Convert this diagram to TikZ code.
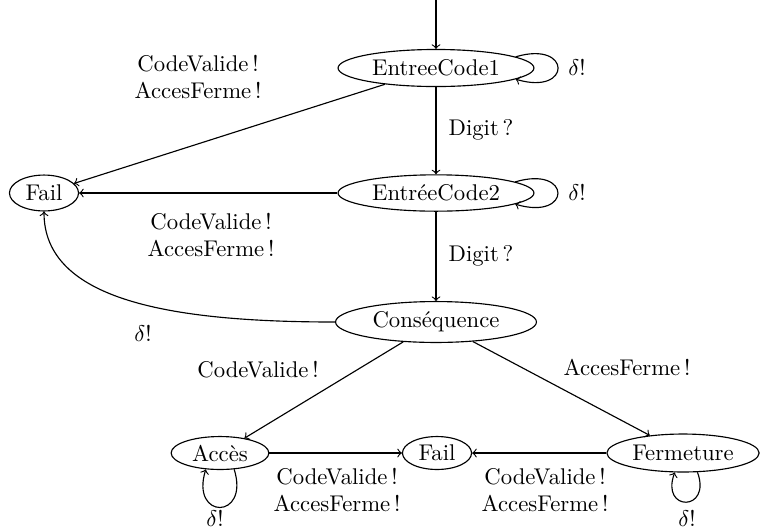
\documentclass[tikz,border=0pt]{standalone}
\usetikzlibrary{shapes.geometric}

\tikzset{
	etat/.style={draw,ellipse,inner sep=0pt},
	lbl/.style={align=center,inner sep=0pt},
}

\begin{document}
	\begin{tikzpicture}[x=0.44pt,y=-0.44pt,line width=0.5pt]
		\useasboundingbox (0,0) rectangle (760,531);
		\coordinate (debut) at (436,0);
		\node[etat,minimum width=86.2pt,minimum height=16.3pt] (code1) at (436,68) {EntreeCode1};
		\node[etat,minimum width=86.2pt,minimum height=16pt] (code2) at (436,193) {EntréeCode2};
		\node[etat,minimum width=88.4pt,minimum height=18pt] (cons) at (436,322) {Conséquence};
		\node[etat,minimum width=30.4pt,minimum height=15.8pt] (fail) at (44,193) {Fail};
		\node[etat,minimum width=43pt,minimum height=14.5pt] (acces) at (220,453) {Accès};
		\node[etat,minimum width=30.4pt,minimum height=14.5pt] (failb) at (437,453) {Fail};
		\node[etat,minimum width=67pt,minimum height=16.7pt] (ferm) at (683,453) {Fermeture};
		% transitions
		\draw [->] (debut) to (code1);
		\draw [->] (code1) to (code2);
		\draw [->] (code2) to (cons);
		\draw [->] (code1) to (fail);
		\draw [->] (code2) to (fail);
		\draw [->] (cons.west) .. controls (170,322) and (44,300) .. (fail.south);
		\draw [->] (cons) to (acces);
		\draw [->] (cons) to (ferm);
		\draw [->] (acces) to (failb);
		\draw [->] (ferm) to (failb);
		% boucles
		\draw [->] (code1.8) .. controls (572,40) and (572,96) .. (code1.-8);
		\draw [->] (code2.8) .. controls (572,165) and (572,221) .. (code2.-8);
		\draw [->] (acces.-49) .. controls (250,520) and (190,520) .. (acces.-131);
		\draw [->] (ferm.-53) .. controls (712,512) and (660,512) .. (ferm.-113);
		% etiquettes
		\node[lbl] (l1) at (198,77) {CodeValide\,!\\AccesFerme\,!};
		\node[lbl] (l2) at (481,130) {Digit\,?};
		\node[lbl] (l3) at (481,256) {Digit\,?};
		\node[lbl] (l4) at (211,235) {CodeValide\,!\\AccesFerme\,!};
		\node[lbl] (l5) at (143,334) {$\delta!$};
		\node[lbl] (l6) at (577,68) {$\delta!$};
		\node[lbl] (l7) at (577,193) {$\delta!$};
		\node[lbl] (l8) at (258,370) {CodeValide\,!};
		\node[lbl] (l9) at (627,367) {AccesFerme\,!};
		\node[lbl] (l10) at (337,490) {CodeValide\,!\\AccesFerme\,!};
		\node[lbl] (l11) at (545,490) {CodeValide\,!\\AccesFerme\,!};
		\node[lbl] (l12) at (215,519) {$\delta!$};
		\node[lbl] (l13) at (687,519) {$\delta!$};
	\end{tikzpicture}
\end{document}
